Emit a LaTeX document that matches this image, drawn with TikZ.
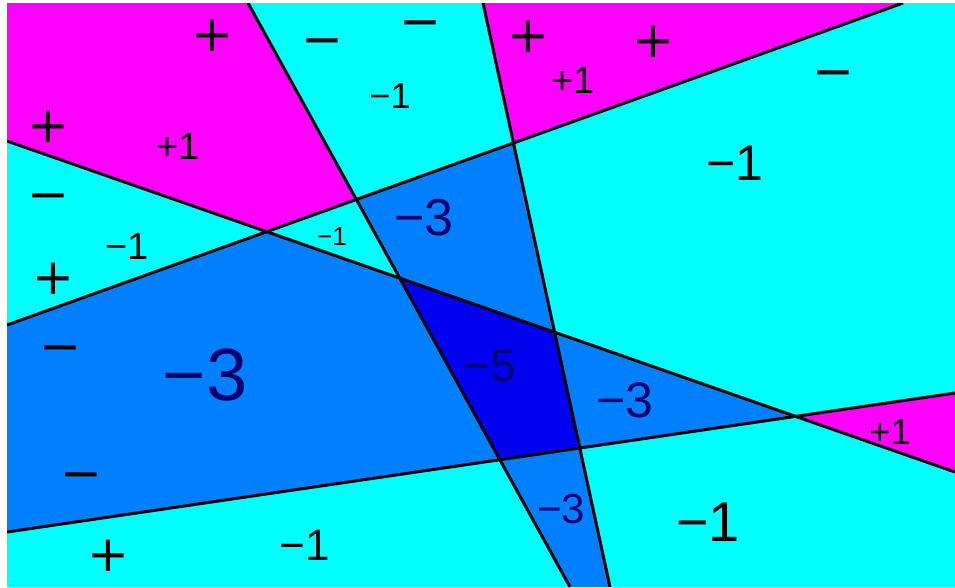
\documentclass[tikz,border=0pt]{standalone}
\usepackage{fontspec}
\setmainfont{DejaVu Sans}
\newfontfamily\handfont{Liberation Sans}
\usepackage{tikz}

\definecolor{regcyan}{RGB}{0,255,255}
\definecolor{regmag}{RGB}{255,0,255}
\definecolor{regblue}{RGB}{0,128,255}
\definecolor{regdeep}{RGB}{0,0,240}
\definecolor{inknavy}{RGB}{0,0,110}

\begin{document}
\begin{tikzpicture}[x=1pt, y=-1pt,
    sepline/.style={line width=3pt, black},
    sign/.style={font=\fontsize{50}{50}\selectfont, inner sep=0pt},
    val/.style={font=\handfont\fontsize{#1}{#1}\selectfont, inner sep=0pt}]
    \useasboundingbox (0,0) rectangle (955,587);

    % ends of the five lines
    \coordinate (P1) at (248,3);   \coordinate (P2) at (570,587);
    \coordinate (Q1) at (483,3);   \coordinate (Q2) at (610,587);
    \coordinate (B1) at (7,141);   \coordinate (B2) at (955,472);
    \coordinate (C1) at (7,325);   \coordinate (C2) at (903,3);
    \coordinate (D1) at (7,532);   \coordinate (D2) at (955,393);

    % crossings
    \coordinate (PC) at (intersection of P1--P2 and C1--C2);
    \coordinate (QC) at (intersection of Q1--Q2 and C1--C2);
    \coordinate (BC) at (intersection of B1--B2 and C1--C2);
    \coordinate (PB) at (intersection of P1--P2 and B1--B2);
    \coordinate (QB) at (intersection of Q1--Q2 and B1--B2);
    \coordinate (PD) at (intersection of P1--P2 and D1--D2);
    \coordinate (QD) at (intersection of Q1--Q2 and D1--D2);
    \coordinate (BD) at (intersection of B1--B2 and D1--D2);

    \begin{scope}
    \clip (7,3) rectangle (955,587);
    \fill[regcyan] (7,3) rectangle (955,587);

    % +1 regions
    \fill[regmag] (7,3) -- (P1) -- (PC) -- (BC) -- (B1) -- cycle;
    \fill[regmag] (Q1) -- (QC) -- (C2) -- cycle;
    \fill[regmag] (BD) -- (D2) -- (B2) -- cycle;

    % -3 regions
    \fill[regblue] (PC) -- (QC) -- (QB) -- (PB) -- cycle;
    \fill[regblue] (C1) -- (BC) -- (PB) -- (PD) -- (D1) -- cycle;
    \fill[regblue] (QB) -- (BD) -- (QD) -- cycle;
    \fill[regblue] (PD) -- (QD) -- (Q2) -- (P2) -- cycle;

    % -5 region
    \fill[regdeep] (PB) -- (QB) -- (QD) -- (PD) -- cycle;

    \draw[sepline] (P1) -- (P2);
    \draw[sepline] (Q1) -- (Q2);
    \draw[sepline] (B1) -- (B2);
    \draw[sepline] (C1) -- (C2);
    \draw[sepline] (D1) -- (D2);
    \end{scope}

    % signs
    \node[sign] (sTLa) at (212,36) {+};
    \node[sign] (sTLb) at (48,127) {+};
    \node[sign] (sTa) at (322,48) {−};
    \node[sign] (sTb) at (420,30) {−};
    \node[sign] (sTc) at (528,37) {+};
    \node[sign] (sTd) at (653,42) {+};
    \node[sign] (sTR) at (833,80) {−};
    \node[sign] (sLa) at (48,203) {−};
    \node[sign] (sLb) at (53,279) {+};
    \node[sign] (sLc) at (60,355) {−};
    \node[sign] (sLd) at (81,482) {−};
    \node[sign] (sBL) at (108,556) {+};

    % values
    \node[val=38] (vTL) at (178,146) {+1};
    \node[val=36] (vT) at (390,96) {−1};
    \node[val=38] (vTM) at (573,80) {+1};
    \node[val=50] (vTR) at (735,163) {−1};
    \node[val=38] (vL) at (127,246) {−1};
    \node[val=26] (vS) at (332,237) {−1};
    \node[val=52, inknavy] (vU) at (424,218) {−3};
    \node[val=74, inknavy] (vBig) at (205,375) {−3};
    \node[val=46, inknavy] (vDeep) at (490,366) {−5};
    \node[val=50, inknavy] (vR) at (625,400) {−3};
    \node[val=36] (vRM) at (890,432) {+1};
    \node[val=42, inknavy] (vBot) at (561,509) {−3};
    \node[val=56] (vBR) at (708,522) {−1};
    \node[val=44] (vBLv) at (305,545) {−1};
\end{tikzpicture}
\end{document}
